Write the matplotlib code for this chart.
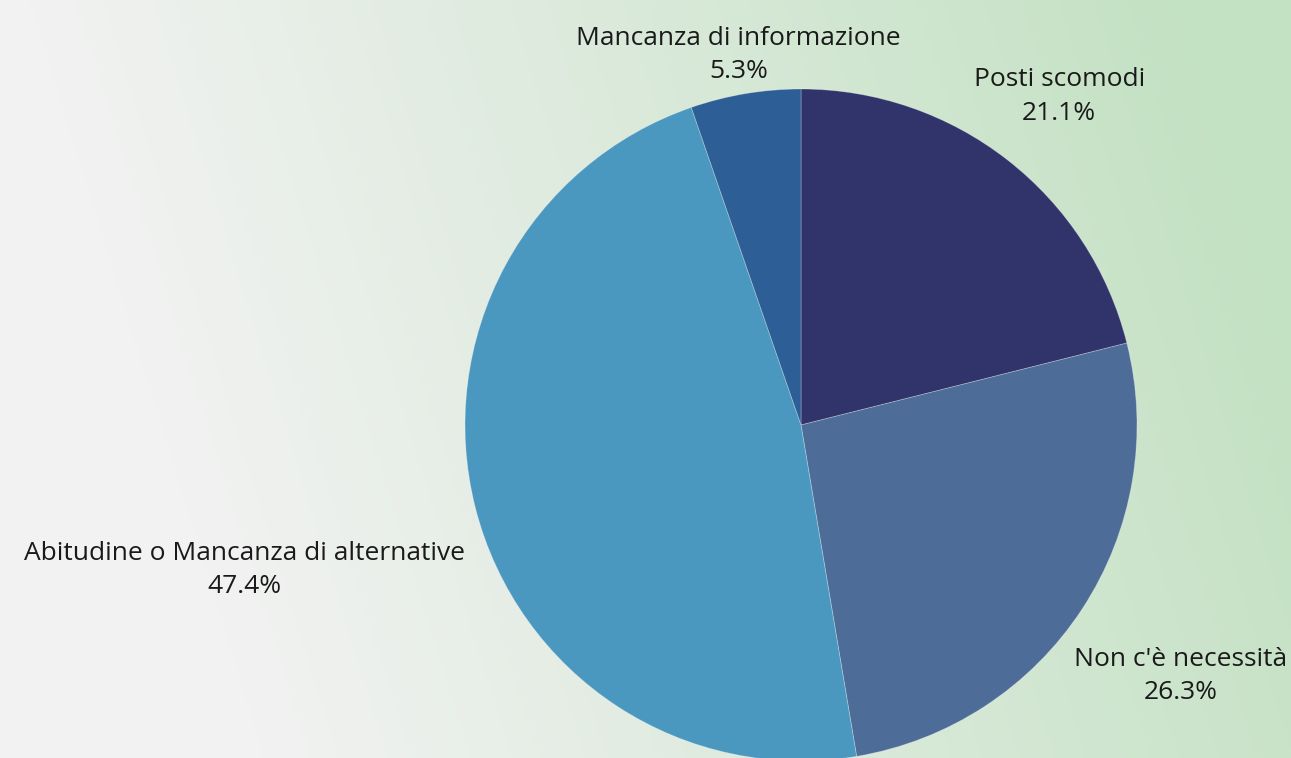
import numpy as np
import matplotlib
matplotlib.use('Agg')
import matplotlib.pyplot as plt
from matplotlib.colors import LinearSegmentedColormap

plt.rcParams['font.family'] = ['Open Sans', 'DejaVu Sans']

# dati
categorie = ['Posti scomodi', "Non c'è necessità",
             'Abitudine o Mancanza di alternative', 'Mancanza di informazione']
percentuali = [21.1, 26.3, 47.4, 5.3]
colori = ['#30346b', '#4e6c98', '#4a98c0', '#2e5e96']
# distanza etichetta (in raggi) per ogni fetta
dist_etichette = [1.25, 1.35, 1.71, 1.125]

W, H = 1291, 758
fig = plt.figure(figsize=(W / 100, H / 100), dpi=100)

# sfondo sfumato grigio -> verde
bg = fig.add_axes([0, 0, 1, 1])
xx, yy = np.meshgrid(np.linspace(0, 1, 300), np.linspace(0, 1, 200))
t = np.clip(1.1 * xx + 0.2 * (1 - yy) - 0.22, 0, 1)
cmap = LinearSegmentedColormap.from_list('bg', ['#f2f2f2', '#c3e1c3'])
bg.imshow(t, cmap=cmap, aspect='auto', extent=[0, 1, 0, 1], origin='upper')
bg.axis('off')

ax = fig.add_axes([0, 0, 1, 1])
ax.patch.set_alpha(0)
cx, cy, r = 801, H - 425, 336
wedges, _ = ax.pie(percentuali, colors=colori, startangle=90, counterclock=False,
                   center=(cx, cy), radius=r,
                   wedgeprops=dict(edgecolor=(1, 1, 1, 0.3), linewidth=0.6))
ax.set_xlim(0, W)
ax.set_ylim(0, H)
ax.set_aspect('auto')
ax.axis('off')

for w, cat, pct, d in zip(wedges, categorie, percentuali, dist_etichette):
    ang = np.deg2rad((w.theta1 + w.theta2) / 2)
    x = cx + d * r * np.cos(ang)
    y = cy + d * r * np.sin(ang) - 3
    ax.text(x, y, f'{cat}\n{pct}%', ha='center', va='center', multialignment='center',
            fontsize=19, color='#1a1a1a', linespacing=1.45)

fig.savefig('out.png', dpi=100)
